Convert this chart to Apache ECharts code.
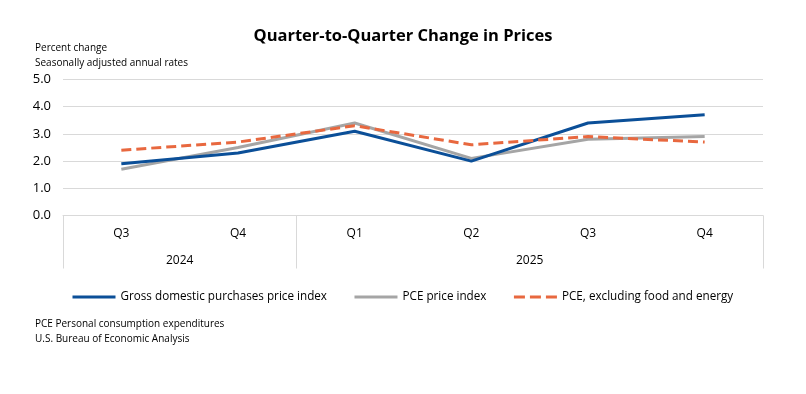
<!DOCTYPE html>
<html>
<head>
<meta charset="utf-8">
<script src="https://cdn.jsdelivr.net/npm/echarts@6/dist/echarts.min.js"></script>
<style>
html,body{margin:0;padding:0;background:#fff;}
#c{width:806px;height:394px;}
</style>
</head>
<body>
<div id="c"></div>
<script>
const quarters = ['Q3', 'Q4', 'Q1', 'Q2', 'Q3', 'Q4'];
const years = ['2024', '2025'];
const yearCenters = [1, 4];      // position (in category units) of each year label
const yearBounds = [0, 2, 6];    // separators between year groups
const gdpPurchases = [1.9, 2.3, 3.1, 2.0, 3.4, 3.7];
const pcePrice = [1.7, 2.5, 3.4, 2.1, 2.8, 2.9];
const pceCore = [2.4, 2.7, 3.3, 2.6, 2.9, 2.7];
const seriesNames = ['Gross domestic purchases price index', 'PCE price index', 'PCE, excluding food and energy'];

const FONT = 'Open Sans';
const chart = echarts.init(document.getElementById('c'), null, {renderer: 'canvas'});
chart.setOption({
  animation: false,
  textStyle: {fontFamily: FONT},
  title: [
    {text: 'Quarter-to-Quarter Change in Prices', left: 'center', top: 23,
     textStyle: {fontFamily: FONT, fontSize: 16.5, fontWeight: 'bold', color: '#000'}},
    {text: 'Percent change\nSeasonally adjusted annual rates', left: 30, top: 36,
     textStyle: {fontFamily: FONT, fontSize: 10, fontWeight: 'normal', color: '#000', lineHeight: 15}},
    {text: 'PCE Personal consumption expenditures\nU.S. Bureau of Economic Analysis', left: 30, top: 312,
     textStyle: {fontFamily: FONT, fontSize: 10, fontWeight: 'normal', color: '#000', lineHeight: 15}}
  ],
  legend: {
    left: 66, top: 286, itemWidth: 43, itemHeight: 10, itemGap: 26,
    itemStyle: {opacity: 0},
    lineStyle: {width: 3},
    textStyle: {fontFamily: FONT, fontSize: 11.7, color: '#000'},
    data: [
      {name: seriesNames[0]},
      {name: seriesNames[1]},
      {name: seriesNames[2], lineStyle: {width: 3, type: [11, 5]}}
    ]
  },
  grid: {left: 63, right: 43, top: 79.5, bottom: 178.5, containLabel: false},
  xAxis: [
    {type: 'category', data: quarters, boundaryGap: true,
     axisLine: {lineStyle: {color: '#d9d9d9', width: 1}},
     axisTick: {show: false},
     axisLabel: {color: '#000', fontSize: 12, margin: 12}},
    {type: 'value', min: 0, max: 6, position: 'bottom',
     axisLine: {show: false},
     axisTick: {show: true, customValues: yearBounds, length: 53, lineStyle: {color: '#d9d9d9'}},
     axisLabel: {show: true, customValues: yearCenters, margin: 39, color: '#000', fontSize: 12,
       formatter: function (v) { const i = yearCenters.indexOf(v); return i >= 0 ? years[i] : ''; }},
     splitLine: {show: false}}
  ],
  yAxis: {
    type: 'value', min: 0, max: 5, interval: 1,
    axisLine: {show: false}, axisTick: {show: false},
    axisLabel: {color: '#000', fontSize: 13, margin: 12, formatter: v => v.toFixed(1)},
    splitLine: {lineStyle: {color: '#d9d9d9', width: 1}}
  },
  series: [
    {name: seriesNames[0], type: 'line', data: gdpPurchases, symbol: 'none',
     lineStyle: {color: '#0b4f98', width: 3}, itemStyle: {color: '#0b4f98'}, z: 3},
    {name: seriesNames[1], type: 'line', data: pcePrice, symbol: 'none',
     lineStyle: {color: '#a5a5a5', width: 3}, itemStyle: {color: '#a5a5a5'}, z: 2},
    {name: seriesNames[2], type: 'line', data: pceCore, symbol: 'none',
     lineStyle: {color: '#e8683f', width: 3, type: [10, 5]}, itemStyle: {color: '#e8683f'}, z: 4}
  ]
});
</script>
</body>
</html>
